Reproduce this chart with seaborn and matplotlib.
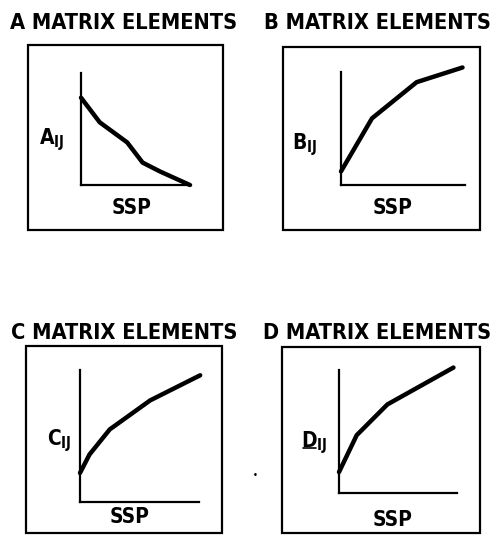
import numpy as np
import pandas as pd
import matplotlib
matplotlib.use("Agg")
import matplotlib.pyplot as plt
import seaborn as sns
from matplotlib.patches import Rectangle
from matplotlib.lines import Line2D

# sketch curves (SSP 0..10, element 0..10)
ssp_a = [0, 1.7, 4.2, 5.6, 7.2, 9.9]
val_a = [7.8, 5.6, 3.8, 2.0, 1.2, 0.0]
ssp_b = [0, 2.5, 6.1, 9.8]
val_b = [1.2, 5.9, 9.1, 10.4]
ssp_c = [0, 0.8, 2.5, 5.9, 10.1]
val_c = [2.2, 3.6, 5.5, 7.7, 9.6]
ssp_d = [0, 1.5, 4.1, 9.7]
val_d = [1.7, 4.7, 7.2, 10.2]

titles = ["A MATRIX ELEMENTS", "B MATRIX ELEMENTS", "C MATRIX ELEMENTS", "D MATRIX ELEMENTS"]
ylabels = [r"A$_\mathregular{IJ}$", r"B$_\mathregular{IJ}$", r"C$_\mathregular{IJ}$",
           r"D$_\mathregular{IJ}$"]
xlabel = "SSP"

sns.set_style("white")
plt.rcParams['font.family'] = ['DejaVu Sans']
plt.rcParams['font.stretch'] = 'condensed'
plt.rcParams['font.weight'] = 'bold'
plt.rcParams['text.color'] = 'black'

W, H = 501, 537
fig = plt.figure(figsize=(W / 100, H / 100), dpi=100)

def fx(x):
    return x / W

def fy(y):
    return 1 - y / H

#layout in pixels: box, inner axes (left, bottom, width, height), title, ylabel, xlabel
panels = [
    dict(box=(28, 45, 223, 230), ax=(81, 185, 110, 112), title=(124, 23), yl=(52, 140), xl=(132, 208)),
    dict(box=(283, 47, 480, 230), ax=(341, 185, 124, 113), title=(377, 23), yl=(305, 145), xl=(393, 208)),
    dict(box=(26, 346, 222, 533), ax=(80, 502, 119, 132), title=(124, 333), yl=(59, 441), xl=(130, 517)),
    dict(box=(282, 347, 480, 533), ax=(339, 493, 118, 123), title=(377, 333), yl=(314, 443), xl=(393, 520)),
]
curves = [(ssp_a, val_a), (ssp_b, val_b), (ssp_c, val_c), (ssp_d, val_d)]

for i, p in enumerate(panels):
    x0, y0, x1, y1 = p['box']
    fig.patches.append(Rectangle((fx(x0), fy(y1)), fx(x1 - x0), (y1 - y0) / H,
                                 transform=fig.transFigure, fill=False,
                                 edgecolor='black', linewidth=1.6))
    l, b, w, h = p['ax']
    ax = fig.add_axes([fx(l), fy(b), w / W, h / H])
    df = pd.DataFrame({'ssp': curves[i][0], 'val': curves[i][1]})
    sns.lineplot(data=df, x='ssp', y='val', sort=False, color='black',
                 linewidth=3.2, ax=ax, clip_on=False, solid_capstyle='round')
    ax.set_xlim(0, 10)
    ax.set_ylim(0, 10)
    ax.set_xticks([])
    ax.set_yticks([])
    ax.set_xlabel("")
    ax.set_ylabel("")
    ax.patch.set_alpha(0)
    sns.despine(ax=ax)
    for s in ['left', 'bottom']:
        ax.spines[s].set_linewidth(1.6)
        ax.spines[s].set_color('black')

    fig.text(fx(p['title'][0]), fy(p['title'][1]), titles[i], ha='center', va='center',
             fontsize=15.7, fontweight='bold')
    fig.text(fx(p['yl'][0]), fy(p['yl'][1]), ylabels[i], ha='center', va='center',
             fontsize=15, fontweight='bold')
    fig.text(fx(p['xl'][0]), fy(p['xl'][1]), xlabel, ha='center', va='center',
             fontsize=15, fontweight='bold')

# underline under the D of D_IJ
fig.lines.append(Line2D([fx(303), fx(316)], [fy(448), fy(448)], transform=fig.transFigure,
                        color='black', linewidth=1.2))

# stray dot on the scan
fig.text(fx(255), fy(475), "•", ha='center', va='center', fontsize=6)

fig.savefig("out.png", dpi=100)
